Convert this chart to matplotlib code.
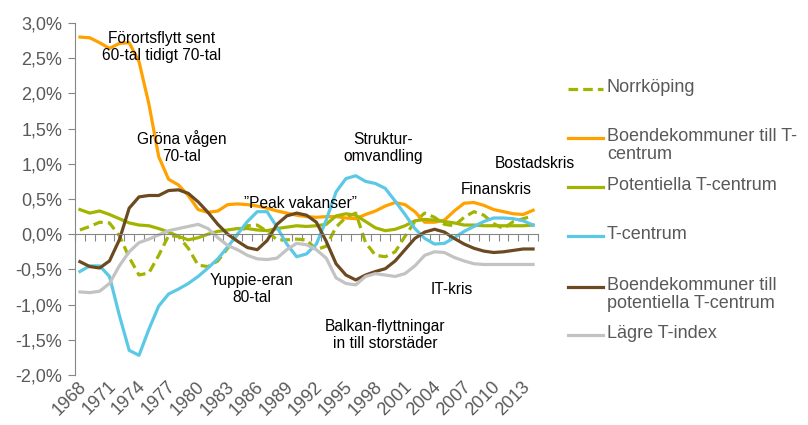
import matplotlib
matplotlib.use("Agg")
import matplotlib.pyplot as plt
from matplotlib.lines import Line2D
from matplotlib.ticker import FuncFormatter, MultipleLocator, FixedLocator
import numpy as np

plt.rcParams['font.family'] = ['Liberation Sans', 'DejaVu Sans']

years = list(range(1968, 2015))

norrkoping = [0.06, 0.11, 0.17, 0.16, -0.02, -0.33, -0.58, -0.55, -0.30, -0.02,
              -0.03, -0.20, -0.44, -0.46, -0.38, -0.20, 0.00, 0.12, 0.13, 0.04,
              -0.08, -0.08, -0.07, -0.08, -0.22, -0.17, 0.10, 0.24, 0.30, -0.12,
              -0.30, -0.32, -0.25, -0.03, 0.18, 0.30, 0.24, 0.14, 0.12, 0.24,
              0.32, 0.27, 0.15, 0.08, 0.18, 0.22, 0.26]

boende_t = [2.80, 2.79, 2.72, 2.64, 2.71, 2.72, 2.45, 1.85, 1.10, 0.78,
            0.70, 0.55, 0.35, 0.31, 0.33, 0.42, 0.43, 0.42, 0.40, 0.37,
            0.33, 0.30, 0.27, 0.25, 0.24, 0.25, 0.25, 0.23, 0.22, 0.28,
            0.33, 0.40, 0.45, 0.42, 0.32, 0.17, 0.17, 0.20, 0.33, 0.44,
            0.45, 0.41, 0.35, 0.32, 0.29, 0.28, 0.34]

potentiella = [0.35, 0.30, 0.33, 0.28, 0.22, 0.16, 0.13, 0.12, 0.08, 0.03,
               -0.03, -0.08, -0.05, 0.00, 0.04, 0.06, 0.08, 0.08, 0.06, 0.05,
               0.08, 0.10, 0.12, 0.11, 0.12, 0.14, 0.26, 0.29, 0.27, 0.18,
               0.09, 0.05, 0.07, 0.12, 0.19, 0.21, 0.20, 0.18, 0.16, 0.13,
               0.13, 0.12, 0.12, 0.12, 0.12, 0.12, 0.13]

t_centrum = [-0.53, -0.45, -0.45, -0.60, -1.15, -1.65, -1.72, -1.35, -1.02, -0.85,
             -0.78, -0.70, -0.60, -0.48, -0.35, -0.18, 0.00, 0.18, 0.32, 0.32,
             0.10, -0.14, -0.32, -0.28, -0.14, 0.20, 0.60, 0.79, 0.83, 0.75,
             0.72, 0.65, 0.47, 0.28, 0.08, -0.06, -0.14, -0.13, -0.05, 0.04,
             0.11, 0.18, 0.23, 0.23, 0.22, 0.19, 0.13]

boende_pot = [-0.39, -0.46, -0.48, -0.38, -0.08, 0.37, 0.53, 0.55, 0.55, 0.62,
              0.63, 0.58, 0.46, 0.31, 0.14, 0.00, -0.10, -0.19, -0.22, -0.09,
              0.14, 0.26, 0.30, 0.27, 0.17, -0.10, -0.42, -0.58, -0.65, -0.58,
              -0.53, -0.49, -0.38, -0.22, -0.06, 0.03, 0.07, 0.03, -0.06, -0.14,
              -0.20, -0.24, -0.26, -0.25, -0.23, -0.21, -0.21]

lagre = [-0.82, -0.83, -0.81, -0.70, -0.45, -0.25, -0.12, -0.07, -0.01, 0.05,
         0.08, 0.11, 0.14, 0.08, -0.05, -0.16, -0.22, -0.30, -0.35, -0.36,
         -0.34, -0.22, -0.13, -0.15, -0.22, -0.34, -0.62, -0.70, -0.72, -0.60,
         -0.56, -0.58, -0.60, -0.56, -0.45, -0.30, -0.25, -0.26, -0.33, -0.38,
         -0.42, -0.43, -0.43, -0.43, -0.43, -0.43, -0.43]

labels = ["Norrköping", "Boendekommuner till T-\ncentrum", "Potentiella T-centrum",
          "T-centrum", "Boendekommuner till\npotentiella T-centrum", "Lägre T-index"]
series = [norrkoping, boende_t, potentiella, t_centrum, boende_pot, lagre]
colors = ["#A2B400", "#FFA200", "#A2B400", "#5BC8E6", "#6B4A22", "#C3C3C3"]
styles = ["--", "-", "-", "-", "-", "-"]

annotations = [
    ("Förortsflytt sent\n60-tal tidigt 70-tal", 162, 47),
    ("Gröna vågen\n70-tal", 182, 147),
    ("”Peak vakanser”", 300, 203),
    ("Struktur-\nomvandling", 383, 148),
    ("Bostadskris", 535, 164),
    ("Finanskris", 496, 189),
    ("Yuppie-eran\n80-tal", 252, 289),
    ("IT-kris", 452, 290),
    ("Balkan-flyttningar\nin till storstäder", 385, 335),
]

W, H = 808, 425
fig = plt.figure(figsize=(W / 100, H / 100), dpi=100)
ax_l, ax_r, ax_t, ax_b = 75, 538, 23, 375
ax = fig.add_axes([ax_l / W, 1 - ax_b / H, (ax_r - ax_l) / W, (ax_b - ax_t) / H])

dash = (0, (3.0, 1.6))
x = np.arange(len(years))
for s, c, ls in zip(series, colors, styles):
    if ls == "--":
        ax.plot(x, s, color=c, lw=2.3, ls=dash, dash_capstyle='butt')
    else:
        ax.plot(x, s, color=c, lw=2.3, ls=ls, solid_joinstyle='round')

ax.set_xlim(-0.5, len(years) - 0.5)
ax.set_ylim(-2.0, 3.0)

axis_gray = "#868686"
text_gray = "#595959"
for sp in ["top", "right"]:
    ax.spines[sp].set_visible(False)
ax.spines["left"].set_color(axis_gray)
ax.spines["bottom"].set_position(("data", 0))
ax.spines["bottom"].set_color(axis_gray)

ax.yaxis.set_major_locator(MultipleLocator(0.5))
ax.yaxis.set_major_formatter(FuncFormatter(lambda v, p: f"{v:.1f}%".replace(".", ",")))
ax.tick_params(axis="y", direction="out", length=5, color=axis_gray, labelcolor=text_gray,
               labelsize=13, pad=4)
ax.xaxis.set_major_locator(FixedLocator(np.arange(-0.5, len(years), 1.0)))
ax.tick_params(axis="x", direction="out", length=5, color=axis_gray, labelbottom=False)

for i, yr in enumerate(years):
    if (yr - 1968) % 3 == 0:
        px = ax_l + (i + 0.5) * (ax_r - ax_l) / len(years)
        fig.text((px + 4) / W, 1 - 384 / H, str(yr), rotation=45, rotation_mode="anchor",
                 ha="right", va="center", fontsize=13, color=text_gray)

for txt, cx, cy in annotations:
    fig.text(cx / W, 1 - cy / H, txt, ha="center", va="center", fontsize=11.2,
             color="black", linespacing=1.15)

legend_y = [89, 138, 187, 236, 287, 335]
for lab, c, ls, ly in zip(labels, colors, styles, legend_y):
    if ls == "--":
        fig.add_artist(Line2D([568 / W, 603 / W], [1 - ly / H] * 2, color=c, lw=2.3,
                              ls=dash, dash_capstyle='butt'))
    else:
        fig.add_artist(Line2D([568 / W, 603 / W], [1 - ly / H] * 2, color=c, lw=2.3))
    fig.text(607 / W, 1 - (ly - 10) / H, lab, ha="left", va="top", fontsize=13,
             color=text_gray, linespacing=1.1)

fig.savefig("out.png", dpi=100)
